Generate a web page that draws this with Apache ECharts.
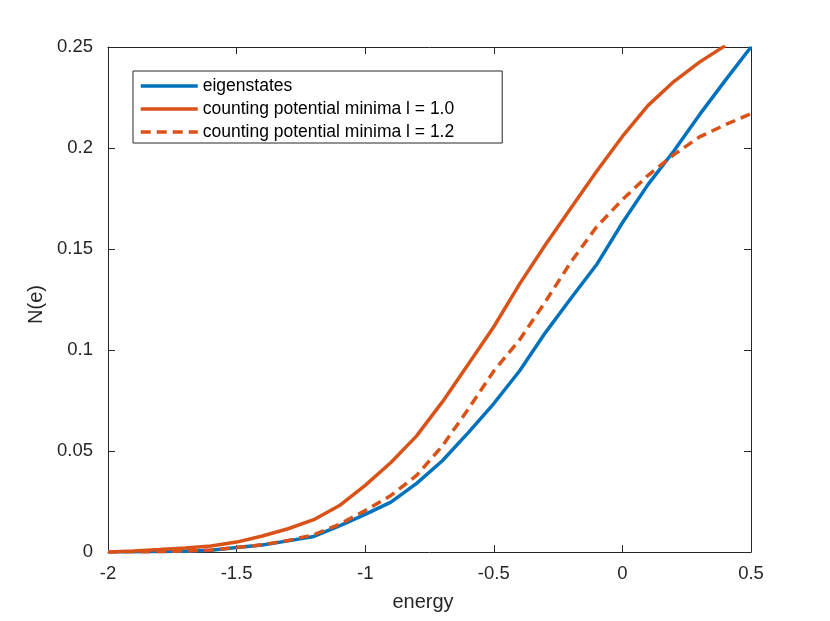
<!DOCTYPE html>
<html>
<head>
<meta charset="utf-8">
<script src="https://cdn.jsdelivr.net/npm/echarts@6/dist/echarts.min.js"></script>
<style>html,body{margin:0;padding:0;background:#fff;}#c{width:830px;height:621px;}</style>
</head>
<body>
<div id="c"></div>
<script>
var energy = [-2.0,-1.9,-1.8,-1.7,-1.6,-1.5,-1.4,-1.3,-1.2,-1.1,-1.0,-0.9,-0.8,-0.7,-0.6,-0.5,-0.4,-0.3,-0.2,-0.1,0.0,0.1,0.2,0.3,0.4,0.5];
var eigenstates = [0,0.0001,0.0002,0.0004,0.0009,0.0022,0.0035,0.0055,0.0077,0.0129,0.0186,0.0247,0.0340,0.0452,0.0590,0.0735,0.0896,0.1085,0.1256,0.1423,0.1630,0.1820,0.1985,0.2165,0.2335,0.2500];
var minima10 = [0,0.0005,0.0012,0.0020,0.0030,0.0049,0.0079,0.0115,0.0160,0.0230,0.0330,0.0443,0.0575,0.0743,0.0928,0.1115,0.1326,0.1520,0.1703,0.1885,0.2057,0.2211,0.2329,0.2425,0.2507];
var minima12 = [0,0.0001,0.0002,0.0005,0.0010,0.0022,0.0036,0.0057,0.0085,0.0137,0.0205,0.0280,0.0379,0.0525,0.0706,0.0896,0.1050,0.1238,0.1436,0.1610,0.1744,0.1865,0.1967,0.2055,0.2115,0.2170];
var xTicks = [-2,-1.5,-1,-0.5,0,0.5];
var yTicks = [0,0.05,0.1,0.15,0.2,0.25];

function pairs(ys){ var out=[]; for(var i=0;i<ys.length;i++){ out.push([energy[i], ys[i]]); } return out; }

var FONT = 'Liberation Sans';
var AX = '#262626';
var chart = echarts.init(document.getElementById('c'), null, {renderer:'canvas'});
var baseX = {type:'value', min:xTicks[0], max:xTicks[xTicks.length-1], interval:0.5,
  axisLine:{show:true, onZero:false, lineStyle:{color:AX, width:1}},
  axisTick:{show:true, inside:true, length:7, lineStyle:{color:AX}},
  splitLine:{show:false}};
var baseY = {type:'value', min:yTicks[0], max:yTicks[yTicks.length-1], interval:0.05,
  axisLine:{show:true, onZero:false, lineStyle:{color:AX, width:1}},
  axisTick:{show:true, inside:true, length:7, lineStyle:{color:AX}},
  splitLine:{show:false}};
chart.setOption({
  animation:false,
  backgroundColor:'#fff',
  grid:{left:108, right:79, top:47, bottom:69},
  xAxis:[
    Object.assign({}, baseX, {position:'bottom', name:'energy', nameLocation:'middle', nameGap:40,
      nameTextStyle:{fontFamily:FONT, fontSize:20, color:AX, padding:[0,13,0,0]},
      axisLabel:{show:true, margin:12, fontFamily:FONT, fontSize:18.5, color:AX,
        formatter:function(v){ return String(v); }}}),
    Object.assign({}, baseX, {position:'top', axisLabel:{show:false}})
  ],
  yAxis:[
    Object.assign({}, baseY, {position:'left', name:'N(e)', nameLocation:'middle', nameGap:60, nameRotate:90,
      nameTextStyle:{fontFamily:FONT, fontSize:20, color:AX, padding:[0,10,0,0]},
      axisLabel:{show:true, margin:15, fontFamily:FONT, fontSize:18.5, color:AX,
        formatter:function(v){ return String(+v.toFixed(2)); }}}),
    Object.assign({}, baseY, {position:'right', axisLabel:{show:false}})
  ],
  legend:{
    show:true, orient:'vertical', left:133, top:71,
    padding:[6,48,2,6], itemGap:5, itemWidth:57, itemHeight:18,
    backgroundColor:'#fff', borderColor:AX, borderWidth:1, borderRadius:0,
    itemStyle:{opacity:0},
    lineStyle:{width:3.5},
    textStyle:{fontFamily:FONT, fontSize:17.5, color:'#000'},
    data:['eigenstates','counting potential minima l = 1.0','counting potential minima l = 1.2']
  },
  series:[
    {name:'eigenstates', type:'line', data:pairs(eigenstates), showSymbol:false, symbol:'none', clip:true,
      lineStyle:{color:'#0072BD', width:3.5}, itemStyle:{color:'#0072BD'}},
    {name:'counting potential minima l = 1.0', type:'line', data:pairs(minima10), showSymbol:false, symbol:'none', clip:true,
      lineStyle:{color:'#D95319', width:3.5}, itemStyle:{color:'#D95319'}},
    {name:'counting potential minima l = 1.2', type:'line', data:pairs(minima12), showSymbol:false, symbol:'none', clip:true,
      lineStyle:{color:'#D95319', width:3.5, type:[10,6]}, itemStyle:{color:'#D95319'}}
  ]
});
</script>
</body>
</html>
